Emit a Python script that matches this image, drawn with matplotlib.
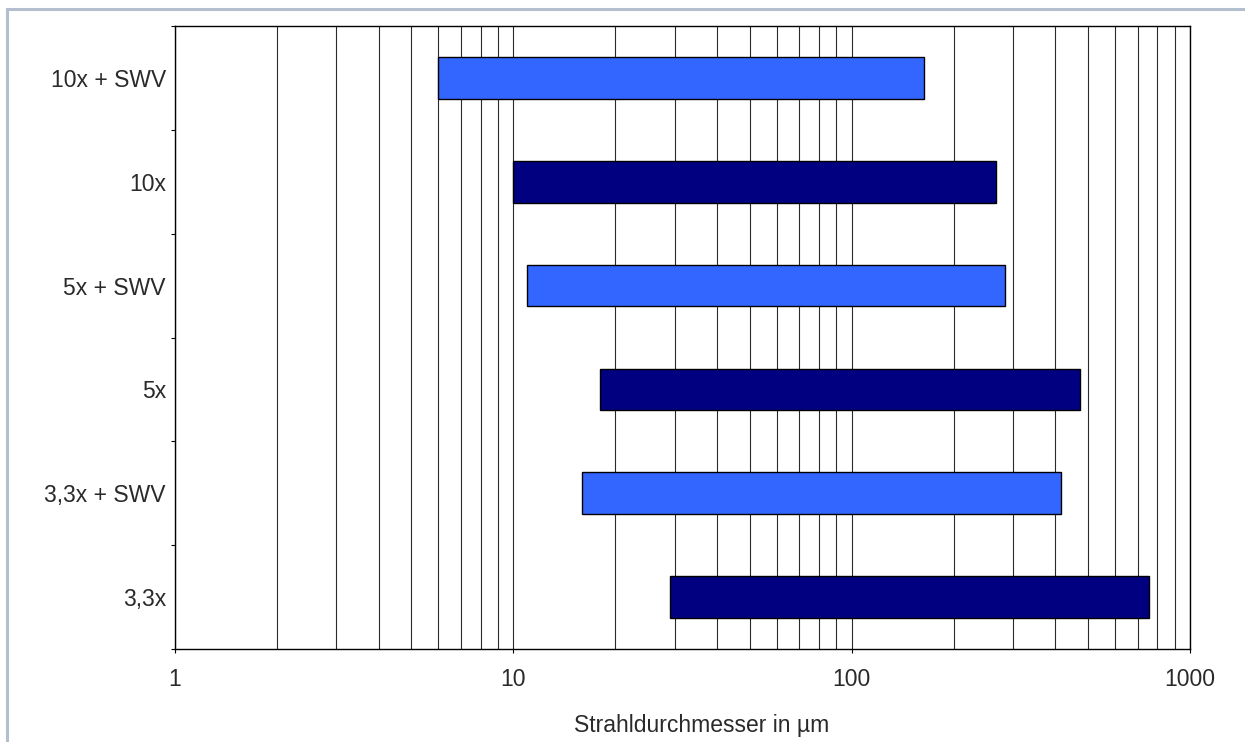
import matplotlib
matplotlib.use("Agg")
import matplotlib.pyplot as plt
from matplotlib.patches import Rectangle
from matplotlib.ticker import FixedLocator, FixedFormatter, NullFormatter, LogLocator
import numpy as np

# Beam diameter ranges (µm) per optics configuration
categories = ["10x + SWV", "10x", "5x + SWV", "5x", "3,3x + SWV", "3,3x"]
range_min = [6, 10, 11, 18, 16, 29]
range_max = [164, 267, 283, 474, 417, 755]
bar_colors = ["#3366FF", "#000080", "#3366FF", "#000080", "#3366FF", "#000080"]

x_ticks = [1, 10, 100, 1000]
x_label = "Strahldurchmesser in µm"

plt.rcParams["font.family"] = ["Liberation Sans", "DejaVu Sans"]
text_color = "#2a2a2a"
font_size = 16.5

fig = plt.figure(figsize=(12.45, 7.42), dpi=100)
fig.patch.set_facecolor("white")

# outer frame of the chart
fig.add_artist(Rectangle((7 / 1245, -0.05), 1.1, 1 - 9 / 742 + 0.05,
                         transform=fig.transFigure, fill=False,
                         edgecolor="#b3bfcf", linewidth=2.2))

ax = fig.add_axes([175 / 1245, 1 - 649 / 742, (1190 - 175) / 1245, (649 - 26) / 742])

y = np.arange(len(categories))
widths = [hi - lo for lo, hi in zip(range_min, range_max)]
ax.barh(y, widths, left=range_min, height=0.4, color=bar_colors,
        edgecolor="black", linewidth=1.0, zorder=3)

ax.set_xscale("log")
ax.set_xlim(1, 1000)
ax.set_ylim(len(categories) - 0.5, -0.5)

ax.xaxis.set_major_locator(FixedLocator(x_ticks))
ax.xaxis.set_major_formatter(FixedFormatter([str(t) for t in x_ticks]))
ax.xaxis.set_minor_locator(LogLocator(base=10, subs=np.arange(2, 10)))
ax.xaxis.set_minor_formatter(NullFormatter())
ax.grid(True, which="both", axis="x", color="#2a2a2a", linewidth=0.8, zorder=0)
ax.tick_params(axis="x", which="major", direction="out", length=3, width=0.8,
               colors="black", labelcolor=text_color, labelsize=font_size, pad=10.5)
ax.tick_params(axis="x", which="minor", length=0)

ax.set_yticks(y)
ax.set_yticklabels(categories)
ax.yaxis.set_minor_locator(FixedLocator(np.arange(-0.5, len(categories), 1.0)))
ax.tick_params(axis="y", which="major", length=0, labelsize=font_size,
               labelcolor=text_color, pad=6.5)
ax.tick_params(axis="y", which="minor", direction="out", length=3, width=0.8,
               colors="black")

for side in ["left", "bottom", "top", "right"]:
    ax.spines[side].set_color("black")
    ax.spines[side].set_linewidth(1.0)

ax.set_xlabel(x_label, fontsize=font_size, color=text_color, labelpad=17)
ax.xaxis.label.set_x(0.519)

fig.savefig("out.png", dpi=100, facecolor="white")
